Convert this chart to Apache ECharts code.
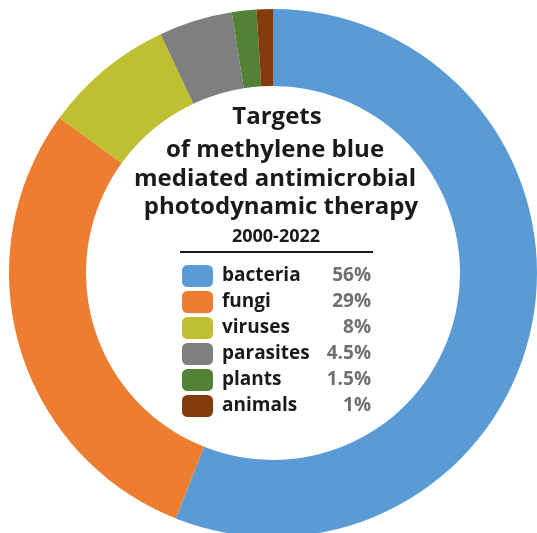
<!DOCTYPE html>
<html><head><meta charset="utf-8">
<script src="https://cdn.jsdelivr.net/npm/echarts@6/dist/echarts.min.js"></script>
<style>html,body{margin:0;padding:0;background:#fff}#c{width:537px;height:533px}</style>
</head><body><div id="c"></div>
<script>
const categories = ['bacteria','fungi','viruses','parasites','plants','animals'];
const values = [56, 29, 8, 4.5, 1.5, 1];
const colors = ['#5B9BD5','#ED7D31','#BFBF32','#7F7F7F','#538135','#843C0C'];
const titleLines = ['Targets','of methylene blue','mediated antimicrobial','photodynamic therapy'];
const subtitle = '2000-2022';

const font = '"Open Sans"';
const chart = echarts.init(document.getElementById('c'));
const titleX = [277, 275, 275, 281];
const titleY = [117, 150, 179, 207];
const graphics = titleLines.map((t,i)=>({
  type:'text', x: titleX[i], y: titleY[i], z:10,
  style:{text:t, fill:'#1a1a1a', font:'bold 24px '+font, textAlign:'center', textVerticalAlign:'middle'}
}));
graphics.push({type:'text', x:276, y:237, style:{text:subtitle, fill:'#1a1a1a', font:'bold 18px '+font, textAlign:'center', textVerticalAlign:'middle'}});
graphics.push({type:'line', shape:{x1:180,y1:252,x2:373,y2:252}, style:{stroke:'#1a1a1a', lineWidth:2}});

chart.setOption({
  animation:false,
  color: colors,
  graphic: graphics,
  legend:{
    orient:'vertical', left:182, top:265, padding:0, itemWidth:31, itemHeight:22, itemGap:4,
    icon:'roundRect', selectedMode:false,
    data: categories,
    formatter: function(name){
      const i = categories.indexOf(name);
      return '{n|'+name+'}{v|'+values[i]+'%}';
    },
    textStyle:{
      padding:[0,0,0,4],
      rich:{
        n:{width:99, fontFamily:font, fontWeight:'bold', fontSize:19, color:'#1a1a1a'},
        v:{width:50, align:'right', fontFamily:font, fontWeight:'bold', fontSize:19, color:'#707070'}
      }
    }
  },
  series:[{
    type:'pie', center:[273,273], radius:[187,264], startAngle:90, clockwise:true,
    label:{show:false}, labelLine:{show:false}, silent:true,
    itemStyle:{borderWidth:0},
    data: categories.map((c,i)=>({name:c, value:values[i]}))
  }]
});
</script></body></html>
